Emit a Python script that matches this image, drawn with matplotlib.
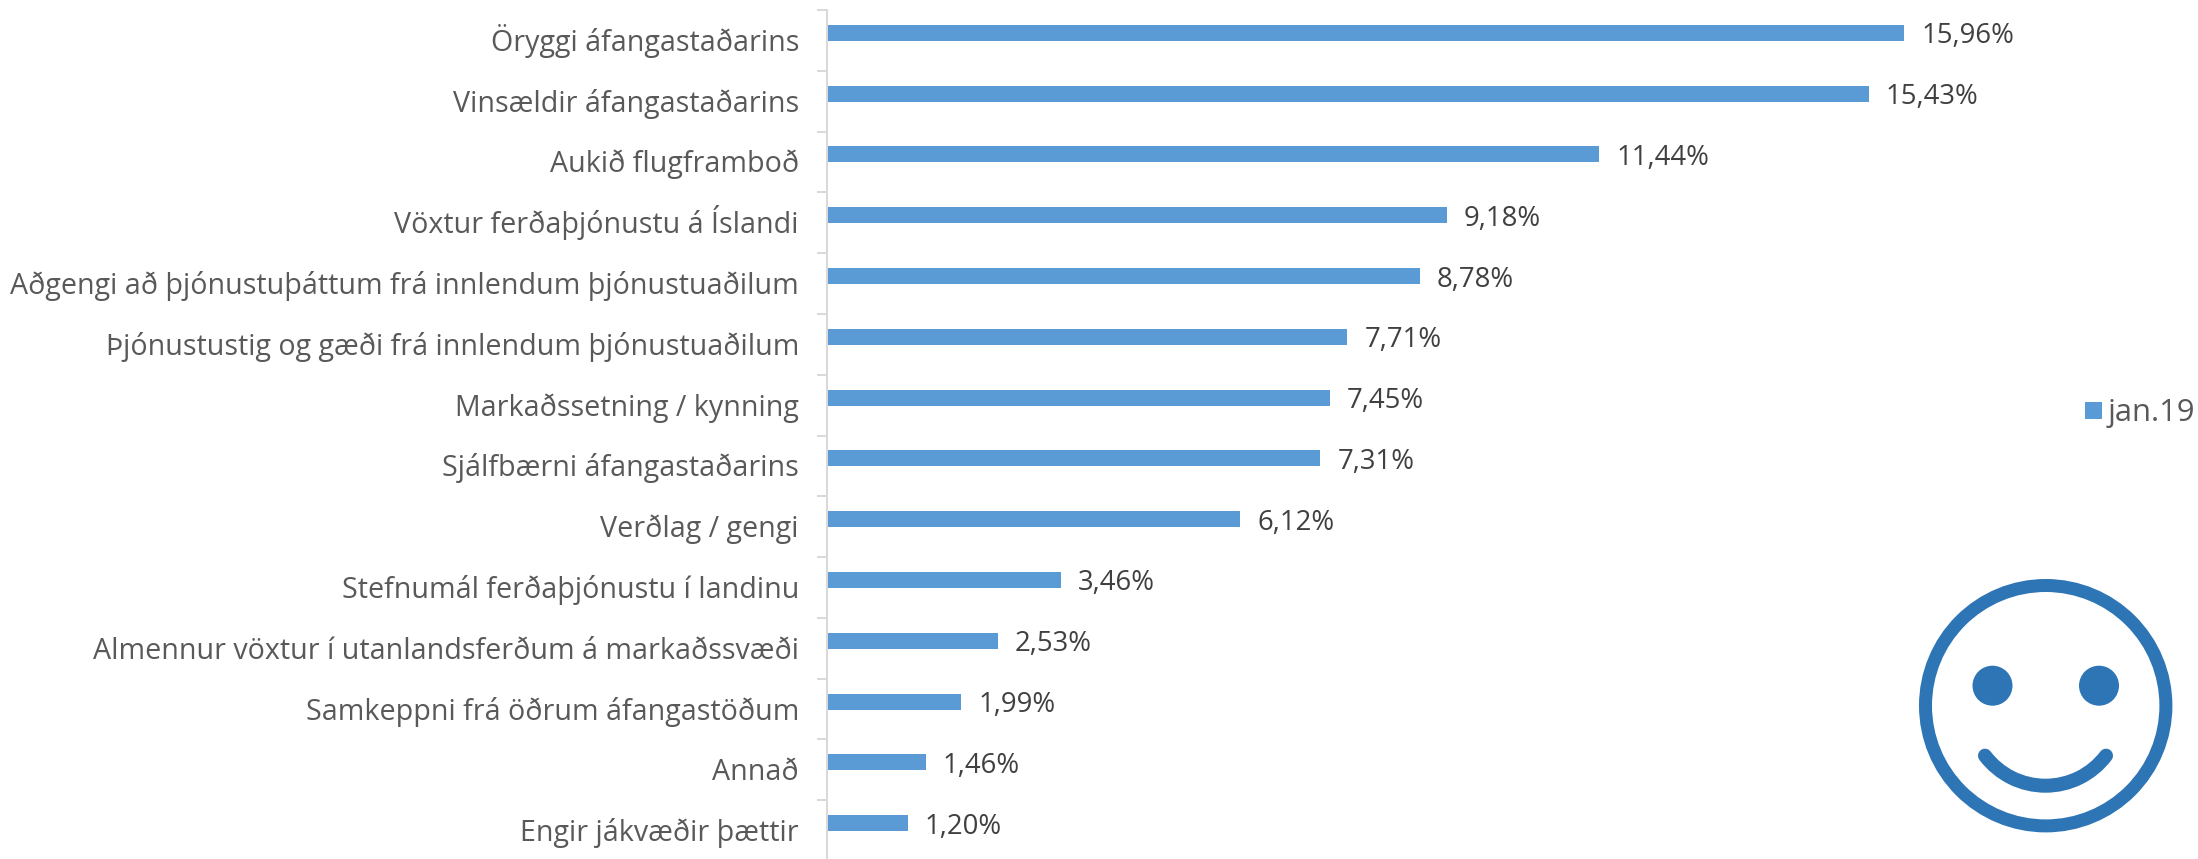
import matplotlib
matplotlib.use('Agg')
import matplotlib.pyplot as plt
from matplotlib.patches import Circle, Arc, Rectangle
from matplotlib.transforms import ScaledTranslation

categories = ["Öryggi áfangastaðarins", "Vinsældir áfangastaðarins", "Aukið flugframboð",
              "Vöxtur ferðaþjónustu á Íslandi",
              "Aðgengi að þjónustuþáttum frá innlendum þjónustuaðilum",
              "Þjónustustig og gæði frá innlendum þjónustuaðilum",
              "Markaðssetning / kynning", "Sjálfbærni áfangastaðarins", "Verðlag / gengi",
              "Stefnumál ferðaþjónustu í landinu",
              "Almennur vöxtur í utanlandsferðum á markaðssvæði",
              "Samkeppni frá öðrum áfangastöðum", "Annað", "Engir jákvæðir þættir"]
values = [15.96, 15.43, 11.44, 9.18, 8.78, 7.71, 7.45, 7.31, 6.12, 3.46, 2.53, 1.99, 1.46, 1.20]
series_name = "jan.19"

W, H = 2198, 859
bar_color = '#5B9BD5'
icon_color = '#2E75B6'
px = 0.72  # pixels to points at dpi 100

plt.rcParams['font.family'] = ['Open Sans', 'DejaVu Sans']

fig = plt.figure(figsize=(W / 100, H / 100), dpi=100)

# plot area, the bottom runs just past the edge of the picture
left, right, top, bottom = 827, 2130, 10, 861
ax = fig.add_axes([left / W, 1 - bottom / H, (right - left) / W, (bottom - top) / H])
ax.set_xlim(0, (right - left) / 67.5)
ax.set_ylim(len(categories) - 0.5, -0.5)

# bars sit above the category centre, as if a second series was left empty
ypos = [i - 0.123 for i in range(len(categories))]
ax.barh(ypos, values, height=0.263, color=bar_color)

for y, v in zip(ypos, values):
    label = f"{v:.2f}%".replace('.', ',')
    ax.annotate(label, (v, y), xytext=(17 * px, -10.5 * px), textcoords='offset points',
                ha='left', va='baseline', fontsize=27.5 * px, color='#404040')

for s in ['top', 'right', 'bottom']:
    ax.spines[s].set_visible(False)
ax.spines['left'].set_color('#D9D9D9')
ax.spines['left'].set_linewidth(2 * px)
ax.set_xticks([])
ax.set_yticks(range(len(categories)))
ax.set_yticklabels(categories, fontsize=28.6 * px, color='#595959')
ax.tick_params(axis='y', which='major', length=0, pad=28 * px)
ax.set_yticks([i - 0.5 for i in range(len(categories) + 1)], minor=True)
ax.tick_params(axis='y', which='minor', length=10 * px, width=2 * px, color='#D9D9D9')
# same baseline distance on every label, whatever its accents and descenders
drop = ScaledTranslation(0, -10.5 * px / 72, fig.dpi_scale_trans)
for t in ax.get_yticklabels():
    t.set_verticalalignment('baseline')
    t.set_transform(t.get_transform() + drop)

# overlay in picture pixels for legend and smiley
ov = fig.add_axes([0, 0, 1, 1])
ov.set_xlim(0, W)
ov.set_ylim(H, 0)
ov.axis('off')
ov.patch.set_alpha(0)

ov.add_patch(Rectangle((2085, 402), 17, 17, color=bar_color, lw=0))
ov.text(2108, 421, series_name, fontsize=31 * px, color='#595959', ha='left', va='baseline')

ov.add_patch(Circle((2045.7, 705.7), 120.2, fill=False, ec=icon_color, lw=13 * px))
ov.add_patch(Circle((1992.5, 685.7), 20, color=icon_color, lw=0))
ov.add_patch(Circle((2099, 685.7), 20, color=icon_color, lw=0))
ov.add_patch(Arc((2045.5, 709.7), 152, 152, theta1=37.2, theta2=142.8,
                 ec=icon_color, lw=14 * px, capstyle='round'))

fig.savefig('out.png', dpi=100)
